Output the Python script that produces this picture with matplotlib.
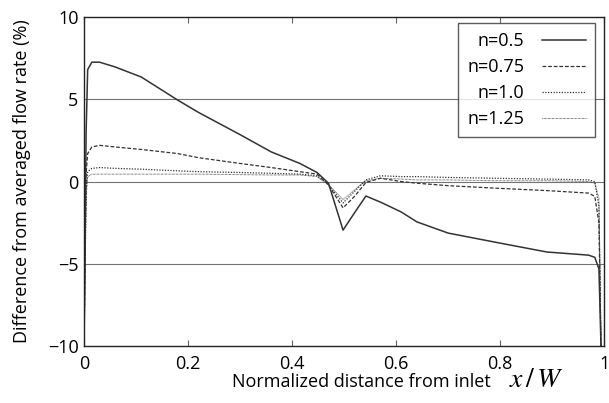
import matplotlib
matplotlib.use('Agg')
from matplotlib import pyplot as plt

plt.rcParams['font.family'] = ['Open Sans', 'DejaVu Sans']
plt.rcParams['mathtext.fontset'] = 'stix'

# normalized position along the channel
x = [0.0, 0.004, 0.007, 0.015, 0.03, 0.06, 0.11, 0.18, 0.22, 0.30, 0.36, 0.415,
     0.448, 0.47, 0.498, 0.52, 0.542, 0.57, 0.61, 0.64, 0.70, 0.79, 0.89, 0.97,
     0.982, 0.99, 0.994]

n05 = [-10, 3.0, 6.8, 7.25, 7.25, 6.96, 6.35, 4.95, 4.2, 2.85, 1.8, 1.1,
       0.55, -0.1, -2.95, -1.9, -0.88, -1.25, -1.85, -2.45, -3.13, -3.68, -4.28, -4.47,
       -4.6, -5.3, -10]
n075 = [-10, 0.5, 1.7, 2.1, 2.2, 2.1, 1.95, 1.7, 1.45, 1.1, 0.85, 0.6,
        0.45, -0.2, -1.6, -0.9, -0.05, 0.2, 0.0, -0.1, -0.25, -0.4, -0.55, -0.7,
        -0.9, -2.5, -10]
n10 = [-10, -0.5, 0.6, 0.8, 0.85, 0.8, 0.75, 0.65, 0.6, 0.55, 0.5, 0.45,
       0.35, -0.2, -1.3, -0.6, 0.1, 0.35, 0.3, 0.3, 0.25, 0.2, 0.15, 0.1,
       0.0, -1.5, -10]
n125 = [-10, -1.0, 0.3, 0.45, 0.45, 0.45, 0.45, 0.45, 0.45, 0.42, 0.4, 0.4,
        0.3, -0.2, -1.1, -0.5, 0.05, 0.2, 0.15, 0.1, 0.1, 0.05, 0.05, 0.0,
        -0.1, -1.0, -10]

labels = ['n=0.5', 'n=0.75', 'n=1.0', 'n=1.25']
xticks = [0, 0.2, 0.4, 0.6, 0.8, 1]
xticklabels = ['0', '0.2', '0.4', '0.6', '0.8', '1']
yticks = [-10, -5, 0, 5, 10]

fig = plt.figure(figsize=(6.09, 4.03), dpi=100)
ax = fig.add_axes([0.138, 0.141, 0.854, 0.817])

for yy in [-5, 0, 5]:
    ax.axhline(yy, color='0.45', lw=0.8, zorder=1)

c = '#333333'
ax.plot(x, n05, color=c, lw=1.1, ls='-', label=labels[0])
ax.plot(x, n075, color=c, lw=0.9, ls=(0, (3, 1.5)), label=labels[1])
ax.plot(x, n10, color=c, lw=0.9, ls=(0, (1, 1.2)), label=labels[2])
ax.plot(x, n125, color=c, lw=0.7, ls=(0, (0.6, 0.8)), label=labels[3])

ax.set_xlim(0, 1)
ax.set_ylim(-10, 10)
ax.set_xticks(xticks)
ax.set_xticklabels(xticklabels)
ax.set_yticks(yticks)
ax.tick_params(axis='x', direction='in', top=True, length=4, width=0.8,
               color='0.4', labelsize=13, pad=6)
ax.tick_params(axis='y', direction='in', length=0, labelsize=13, pad=4)
for s in ax.spines.values():
    s.set_color('#222222')
    s.set_linewidth(1.0)

ax.set_ylabel('Difference from averaged flow rate (%)', fontsize=13, labelpad=12)
fig.text(0.594, 0.04, 'Normalized distance from inlet', fontsize=13,
         ha='center', va='baseline')
fig.text(0.836, 0.04, r'$x\,/\,W$', fontsize=20, ha='left', va='baseline')

leg = ax.legend(loc='upper right', bbox_to_anchor=(0.982, 0.982), markerfirst=False,
                fontsize=13, frameon=True, fancybox=False, handlelength=2.4,
                borderpad=0.5, labelspacing=0.45, handletextpad=1.0,
                borderaxespad=0)
for t in leg.get_texts():
    t.set_ha('right')
leg.get_frame().set_edgecolor('#333333')
leg.get_frame().set_linewidth(1.0)

fig.savefig('out.png', dpi=100)
